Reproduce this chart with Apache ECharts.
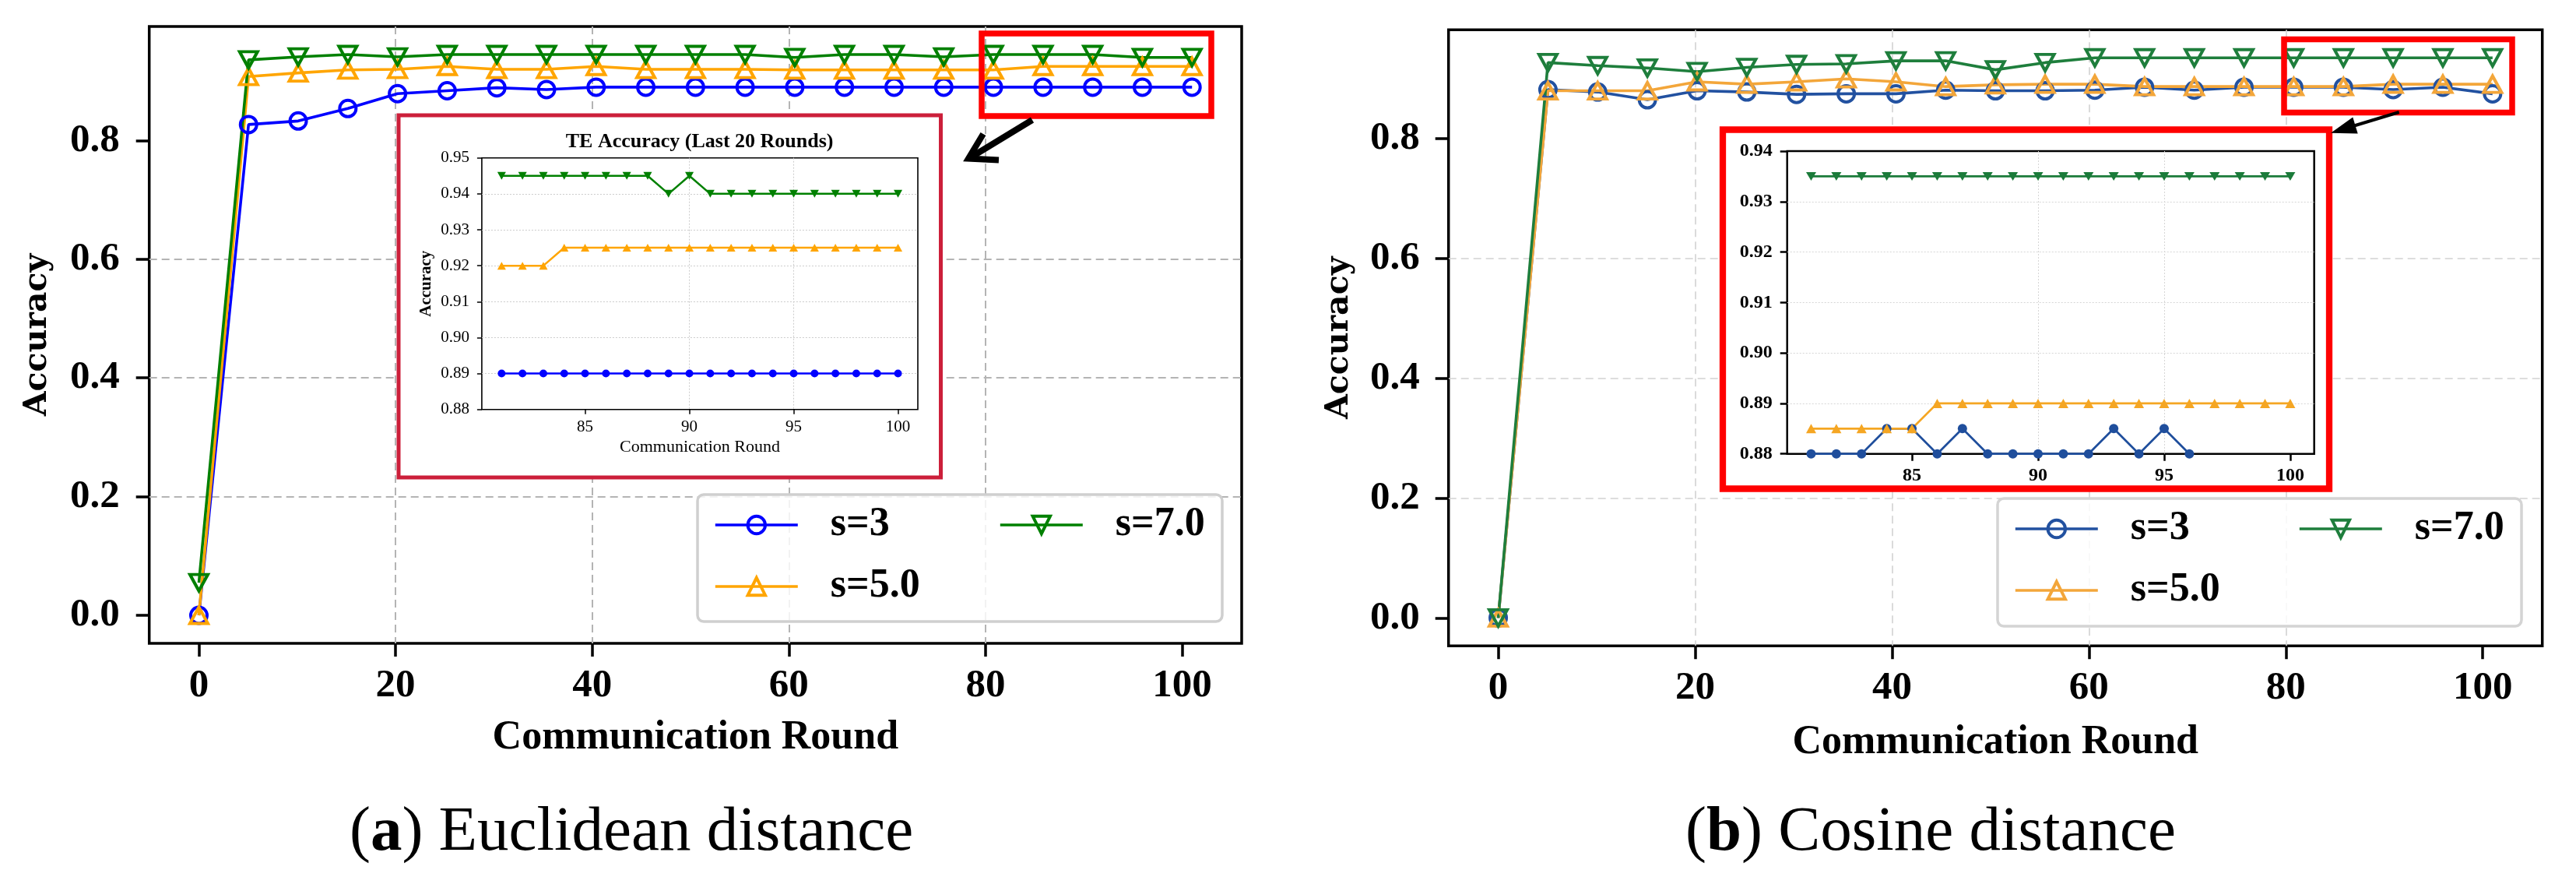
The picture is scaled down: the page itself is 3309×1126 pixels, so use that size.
<!DOCTYPE html>
<html>
<head>
<meta charset="utf-8">
<script src="https://cdn.jsdelivr.net/npm/echarts@6/dist/echarts.min.js"></script>
<style>
html,body{margin:0;padding:0;background:#ffffff;}
#chart{width:3309px;height:1126px;}
</style>
</head>
<body>
<div id="chart"></div>
<script>
// ---------------- DATA ----------------
const rounds = [0, 5.05, 10.1, 15.15, 20.2, 25.25, 30.3, 35.35, 40.4, 45.45, 50.5, 55.55, 60.6, 65.65, 70.7, 75.75, 80.8, 85.85, 90.9, 95.95, 101];

// (a) Euclidean distance
const euclidS3 = [0.000, 0.827, 0.833, 0.854, 0.879, 0.884, 0.889, 0.886, 0.890, 0.890, 0.890, 0.890, 0.890, 0.890, 0.890, 0.890, 0.890, 0.890, 0.890, 0.890, 0.890];
const euclidS5 = [0.000, 0.908, 0.914, 0.919, 0.920, 0.925, 0.920, 0.920, 0.925, 0.920, 0.920, 0.920, 0.919, 0.919, 0.919, 0.919, 0.919, 0.925, 0.925, 0.925, 0.925];
const euclidS7 = [0.055, 0.936, 0.941, 0.945, 0.941, 0.945, 0.945, 0.945, 0.945, 0.945, 0.945, 0.945, 0.940, 0.945, 0.945, 0.941, 0.945, 0.945, 0.945, 0.940, 0.940];

// (b) Cosine distance
const cosineS3 = [0.000, 0.882, 0.878, 0.865, 0.880, 0.878, 0.874, 0.875, 0.875, 0.881, 0.880, 0.880, 0.881, 0.886, 0.881, 0.886, 0.886, 0.886, 0.882, 0.886, 0.875];
const cosineS5 = [0.000, 0.880, 0.880, 0.880, 0.895, 0.891, 0.895, 0.900, 0.895, 0.887, 0.890, 0.891, 0.891, 0.887, 0.887, 0.887, 0.887, 0.887, 0.891, 0.891, 0.891];
const cosineS7 = [0.000, 0.927, 0.922, 0.918, 0.912, 0.919, 0.924, 0.925, 0.930, 0.930, 0.915, 0.927, 0.935, 0.935, 0.935, 0.935, 0.935, 0.935, 0.935, 0.935, 0.935];

// Zoomed insets: last 20 rounds
const zoomRounds = [81, 82, 83, 84, 85, 86, 87, 88, 89, 90, 91, 92, 93, 94, 95, 96, 97, 98, 99, 100];
const euclidZoomS3 = [0.89, 0.89, 0.89, 0.89, 0.89, 0.89, 0.89, 0.89, 0.89, 0.89, 0.89, 0.89, 0.89, 0.89, 0.89, 0.89, 0.89, 0.89, 0.89, 0.89];
const euclidZoomS5 = [0.92, 0.92, 0.92, 0.925, 0.925, 0.925, 0.925, 0.925, 0.925, 0.925, 0.925, 0.925, 0.925, 0.925, 0.925, 0.925, 0.925, 0.925, 0.925, 0.925];
const euclidZoomS7 = [0.945, 0.945, 0.945, 0.945, 0.945, 0.945, 0.945, 0.945, 0.94, 0.945, 0.94, 0.94, 0.94, 0.94, 0.94, 0.94, 0.94, 0.94, 0.94, 0.94];
const cosineZoomS3 = [0.88, 0.88, 0.88, 0.885, 0.885, 0.88, 0.885, 0.88, 0.88, 0.88, 0.88, 0.88, 0.885, 0.88, 0.885, 0.88, 0.875, 0.875, 0.875, 0.875];
const cosineZoomS5 = [0.885, 0.885, 0.885, 0.885, 0.885, 0.89, 0.89, 0.89, 0.89, 0.89, 0.89, 0.89, 0.89, 0.89, 0.89, 0.89, 0.89, 0.89, 0.89, 0.89];
const cosineZoomS7 = [0.935, 0.935, 0.935, 0.935, 0.935, 0.935, 0.935, 0.935, 0.935, 0.935, 0.935, 0.935, 0.935, 0.935, 0.935, 0.935, 0.935, 0.935, 0.935, 0.935];

// Tick labels
const mainXTicks = [0, 20, 40, 60, 80, 100];
const mainYTicks = [0, 0.2, 0.4, 0.6, 0.8];
const zoomXTicks = [85, 90, 95, 100];
const euclidZoomYTicks = [0.88, 0.89, 0.90, 0.91, 0.92, 0.93, 0.94, 0.95];
const cosineZoomYTicks = [0.88, 0.89, 0.90, 0.91, 0.92, 0.93, 0.94];

const seriesNames = ['s=3', 's=5.0', 's=7.0'];

// ---------------- STYLE ----------------
const SERIF = '"Liberation Serif", "Times New Roman", serif';
const DEJAVU = '"DejaVu Serif", serif';
const colA = { s3: '#0000ff', s5: '#ffa500', s7: '#008000' };
const colB = { s3: '#2251a0', s5: '#f3a63a', s7: '#1e7e3c' };
const colBZ = { s3: '#1f4e9c', s5: '#f5a623', s7: '#1b7b3a' };

function pairs(xs, ys) { return xs.map((x, i) => [x, ys[i]]); }

function mainXAxis(gi, nameGap, gridColor, gridW) {
  return {
    gridIndex: gi, type: 'value', min: -5.05, max: 106.05, splitNumber: 5,
    axisLine: { show: false, onZero: false },
    axisTick: { show: true, length: 17, customValues: mainXTicks, lineStyle: { color: '#000', width: 3.5 } },
    axisLabel: { customValues: mainXTicks, margin: 29, color: '#000', fontFamily: SERIF, fontWeight: 'bold', fontSize: 51, lineHeight: 52,
      formatter: v => String(Math.round(v)) },
    splitLine: { show: true, showMinLine: false, showMaxLine: false, lineStyle: { color: gridColor, width: gridW, type: [10, 6] } },
    name: 'Communication Round', nameLocation: 'middle', nameGap: nameGap,
    nameTextStyle: { color: '#000', fontFamily: SERIF, fontWeight: 'bold', fontSize: 52, lineHeight: 52 }
  };
}
function mainYAxis(gi, min, max, nameGap, margin, gridColor, gridW) {
  return {
    gridIndex: gi, type: 'value', min: min, max: max, splitNumber: 5,
    axisLine: { show: false, onZero: false },
    axisTick: { show: true, length: 17, customValues: mainYTicks, lineStyle: { color: '#000', width: 3.5 } },
    axisLabel: { customValues: mainYTicks, margin: margin, color: '#000', fontFamily: SERIF, fontWeight: 'bold', fontSize: 51,
      formatter: v => v.toFixed(1) },
    splitLine: { show: true, showMinLine: false, showMaxLine: false, lineStyle: { color: gridColor, width: gridW, type: [10, 6] } },
    name: 'Accuracy', nameLocation: 'middle', nameRotate: 90, nameGap: nameGap,
    nameTextStyle: { color: '#000', fontFamily: DEJAVU, fontWeight: 'bold', fontSize: 41, lineHeight: 41 }
  };
}
function mainSeries(name, ys, color, symbol, rot, gi) {
  return {
    type: 'line', name: name, xAxisIndex: gi, yAxisIndex: gi,
    data: pairs(rounds, ys),
    symbol: symbol, symbolSize: symbol === 'circle' ? 21 : [23, 21], symbolRotate: rot,
    lineStyle: { color: color, width: 3.6 },
    itemStyle: { color: 'rgba(255,255,255,0)', borderColor: color, borderWidth: 4 },
    emphasis: { disabled: true }, legendHoverLink: false, z: 2, clip: true
  };
}
function zoomSeries(name, ys, color, symbol, rot, gi, sizeC, sizeT, lw) {
  return {
    type: 'line', name: name, xAxisIndex: gi, yAxisIndex: gi,
    data: pairs(zoomRounds, ys),
    symbol: symbol, symbolSize: symbol === 'circle' ? sizeC : sizeT, symbolRotate: rot,
    lineStyle: { color: color, width: lw },
    itemStyle: { color: color, borderWidth: 0 },
    emphasis: { disabled: true }, legendHoverLink: false, zlevel: 1, z: 3, clip: true
  };
}
function legendItem(name, color) {
  return { name: name, itemStyle: { color: 'rgba(255,255,255,0)', borderColor: color, borderWidth: 4 },
           lineStyle: { color: color, width: 3.6 } };
}
function legendComp(left, top, items) {
  return {
    left: left, top: top, orient: 'vertical', padding: 0, itemWidth: 106, itemHeight: 28, itemGap: 27,
    selectedMode: false, data: items, zlevel: 0, z: 5,
    formatter: n => n.trim(),
    textStyle: { color: '#000', fontFamily: SERIF, fontWeight: 'bold', fontSize: 52, lineHeight: 28, padding: [0, 0, 0, 37] }
  };
}

const chart = echarts.init(document.getElementById('chart'), null, { renderer: 'canvas' });

const option = {
  animation: false,
  backgroundColor: '#ffffff',
  grid: [
    { left: 191.7, top: 34, width: 1403.3, height: 792, show: true, borderColor: '#000', borderWidth: 3.5, backgroundColor: 'rgba(0,0,0,0)', containLabel: false },
    { left: 618.9, top: 202.7, width: 560.1, height: 323, show: true, borderColor: '#000', borderWidth: 1.6, backgroundColor: '#ffffff', zlevel: 1, z: 1 },
    { left: 1860.7, top: 38.3, width: 1405, height: 791, show: true, borderColor: '#000', borderWidth: 3.5, backgroundColor: 'rgba(0,0,0,0)' },
    { left: 2295.7, top: 194, width: 677, height: 388.7, show: true, borderColor: '#000', borderWidth: 2.5, backgroundColor: '#ffffff', zlevel: 1, z: 1 }
  ],
  xAxis: [
    mainXAxis(0, 96, '#b4b4b4', 2),
    {
      gridIndex: 1, type: 'value', min: 80.05, max: 100.95, zlevel: 1, z: 2,
      axisLine: { show: false, onZero: false },
      axisTick: { show: true, length: 6, customValues: zoomXTicks, lineStyle: { color: '#000', width: 1.5 } },
      axisLabel: { customValues: zoomXTicks, margin: 12, color: '#000', fontFamily: SERIF, fontSize: 21, lineHeight: 21, formatter: v => String(v) },
      splitLine: { show: true, showMinLine: false, showMaxLine: false, lineStyle: { color: '#cccccc', width: 1, type: [2, 2] } },
      name: 'Communication Round', nameLocation: 'middle', nameGap: 38,
      nameTextStyle: { color: '#000', fontFamily: SERIF, fontSize: 22, lineHeight: 22 }
    },
    mainXAxis(2, 98, '#d2d2d2', 1.6),
    {
      gridIndex: 3, type: 'value', min: 80.05, max: 100.95, zlevel: 1, z: 2,
      axisLine: { show: false, onZero: false },
      axisTick: { show: true, length: 9, customValues: zoomXTicks, lineStyle: { color: '#000', width: 2.5 } },
      axisLabel: { customValues: zoomXTicks, margin: 16, color: '#000', fontFamily: SERIF, fontWeight: 'bold', fontSize: 24, lineHeight: 24, formatter: v => String(v) },
      splitLine: { show: true, showMinLine: false, showMaxLine: false, lineStyle: { color: '#d6d6d6', width: 1, type: [2, 2] } }
    }
  ],
  yAxis: [
    mainYAxis(0, -0.04725, 0.99225, 123, 38, '#b4b4b4', 2),
    {
      gridIndex: 1, type: 'value', min: 0.88, max: 0.95, zlevel: 1, z: 2,
      axisLine: { show: false, onZero: false },
      axisTick: { show: true, length: 6, customValues: euclidZoomYTicks, lineStyle: { color: '#000', width: 1.5 } },
      axisLabel: { customValues: euclidZoomYTicks, margin: 16, color: '#000', fontFamily: SERIF, fontSize: 21, formatter: v => v.toFixed(2) },
      splitLine: { show: true, showMinLine: false, showMaxLine: false, lineStyle: { color: '#cccccc', width: 1, type: [2, 2] } },
      name: 'Accuracy', nameLocation: 'middle', nameRotate: 90, nameGap: 61,
      nameTextStyle: { color: '#000', fontFamily: SERIF, fontWeight: 'bold', fontSize: 21, lineHeight: 21 }
    },
    mainYAxis(2, -0.04675, 0.98175, 120, 37, '#d2d2d2', 1.6),
    {
      gridIndex: 3, type: 'value', min: 0.88, max: 0.94, zlevel: 1, z: 2,
      axisLine: { show: false, onZero: false },
      axisTick: { show: true, length: 9, customValues: cosineZoomYTicks, lineStyle: { color: '#000', width: 2.5 } },
      axisLabel: { customValues: cosineZoomYTicks, margin: 19, color: '#000', fontFamily: SERIF, fontWeight: 'bold', fontSize: 24, formatter: v => v.toFixed(2) },
      splitLine: { show: true, showMinLine: false, showMaxLine: false, lineStyle: { color: '#d6d6d6', width: 1, type: [2, 2] } }
    }
  ],
  legend: [
    legendComp(917, 648, [legendItem(seriesNames[0], colA.s3), legendItem(seriesNames[1], colA.s5)]),
    legendComp(1283, 648, [legendItem(seriesNames[2], colA.s7)]),
    legendComp(2587, 653, [legendItem(seriesNames[0] + ' ', colB.s3), legendItem(seriesNames[1] + ' ', colB.s5)]),
    legendComp(2952, 653, [legendItem(seriesNames[2] + ' ', colB.s7)])
  ],
  series: [
    mainSeries(seriesNames[0], euclidS3, colA.s3, 'circle', 0, 0),
    mainSeries(seriesNames[1], euclidS5, colA.s5, 'triangle', 0, 0),
    mainSeries(seriesNames[2], euclidS7, colA.s7, 'triangle', 180, 0),
    mainSeries(seriesNames[0] + ' ', cosineS3, colB.s3, 'circle', 0, 2),
    mainSeries(seriesNames[1] + ' ', cosineS5, colB.s5, 'triangle', 0, 2),
    mainSeries(seriesNames[2] + ' ', cosineS7, colB.s7, 'triangle', 180, 2),
    zoomSeries('zoom a ' + seriesNames[0], euclidZoomS3, colA.s3, 'circle', 0, 1, 10, [11, 10], 2.5),
    zoomSeries('zoom a ' + seriesNames[1], euclidZoomS5, colA.s5, 'triangle', 0, 1, 10, [11, 10], 2.5),
    zoomSeries('zoom a ' + seriesNames[2], euclidZoomS7, colA.s7, 'triangle', 180, 1, 10, [11, 10], 2.5),
    zoomSeries('zoom b ' + seriesNames[0], cosineZoomS3, colBZ.s3, 'circle', 0, 3, 12, [13, 12], 2.7),
    zoomSeries('zoom b ' + seriesNames[1], cosineZoomS5, colBZ.s5, 'triangle', 0, 3, 12, [13, 12], 2.7),
    zoomSeries('zoom b ' + seriesNames[2], cosineZoomS7, colBZ.s7, 'triangle', 180, 3, 12, [13, 11], 2.7)
  ],
  graphic: { elements: [
    // legend frames
    { type: 'rect', silent: true, zlevel: 0, z: 3, shape: { x: 896, y: 635, width: 674, height: 163, r: 8 },
      style: { fill: 'rgba(255,255,255,0.82)', stroke: '#cfcfcf', lineWidth: 3.5 } },
    { type: 'rect', silent: true, zlevel: 0, z: 3, shape: { x: 2566, y: 640, width: 673, height: 164, r: 8 },
      style: { fill: 'rgba(255,255,255,0.82)', stroke: '#d4d4d4', lineWidth: 3.5 } },
    // inset boxes
    { type: 'rect', silent: true, zlevel: 1, z: 0, shape: { x: 512, y: 148, width: 696.5, height: 465 },
      style: { fill: '#ffffff', stroke: '#cc1f3a', lineWidth: 5 } },
    { type: 'rect', silent: true, zlevel: 1, z: 0, shape: { x: 2213, y: 166.5, width: 779, height: 461 },
      style: { fill: '#ffffff', stroke: '#ff0000', lineWidth: 8.3 } },
    // highlight boxes
    { type: 'rect', silent: true, zlevel: 1, z: 6, shape: { x: 1261, y: 43, width: 295, height: 106 },
      style: { fill: 'rgba(0,0,0,0)', stroke: '#ff0000', lineWidth: 7.5 } },
    { type: 'rect', silent: true, zlevel: 1, z: 6, shape: { x: 2934, y: 50.5, width: 293, height: 94 },
      style: { fill: 'rgba(0,0,0,0)', stroke: '#ff0000', lineWidth: 7.5 } },
    // arrows
    { type: 'polyline', silent: true, zlevel: 1, z: 6, shape: { points: [[1326, 154], [1247, 202]] },
      style: { stroke: '#000', lineWidth: 8, fill: null } },
    { type: 'polyline', silent: true, zlevel: 1, z: 6, shape: { points: [[1263, 172], [1244, 203.5], [1283, 205.5]] },
      style: { stroke: '#000', lineWidth: 8, fill: null, lineJoin: 'miter' } },
    { type: 'polyline', silent: true, zlevel: 1, z: 6, shape: { points: [[3081.7, 144], [3024, 161.5]] },
      style: { stroke: '#000', lineWidth: 4, fill: null } },
    { type: 'polygon', silent: true, zlevel: 1, z: 6, shape: { points: [[2994, 170.7], [3028.7, 171.6], [3022.3, 150.6]] },
      style: { fill: '#000' } },
    // inset title
    { type: 'text', silent: true, zlevel: 1, z: 6, x: 898.6, y: 182.7,
      style: { text: 'TE Accuracy (Last 20 Rounds)', fill: '#000', fontFamily: SERIF, fontWeight: 'bold', fontSize: 26,
               align: 'center', verticalAlign: 'middle' } },
    // captions
    { type: 'text', silent: true, zlevel: 0, z: 6, x: 811, y: 1070,
      style: { text: '({b|a}) Euclidean distance', fill: '#000', fontFamily: SERIF, fontSize: 81, align: 'center', verticalAlign: 'middle',
               rich: { b: { fontFamily: SERIF, fontSize: 81, fontWeight: 'bold', fill: '#000' } } } },
    { type: 'text', silent: true, zlevel: 0, z: 6, x: 2480, y: 1070,
      style: { text: '({b|b}) Cosine distance', fill: '#000', fontFamily: SERIF, fontSize: 81, align: 'center', verticalAlign: 'middle',
               rich: { b: { fontFamily: SERIF, fontSize: 81, fontWeight: 'bold', fill: '#000' } } } }
  ] }
};

chart.setOption(option);
</script>
</body>
</html>
